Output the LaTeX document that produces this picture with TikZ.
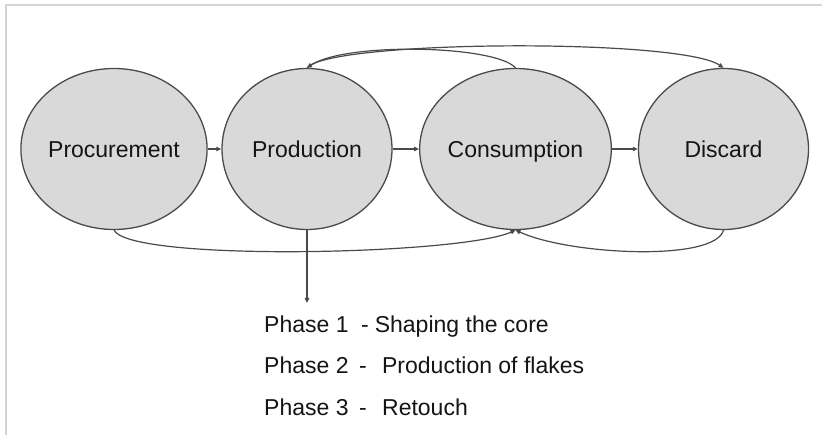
\documentclass[tikz,border=0pt]{standalone}
\usepackage{fontspec}
\setmainfont{Liberation Sans}
\usetikzlibrary{arrows.meta,shapes.geometric}
\definecolor{linegray}{HTML}{4A4A4A}
\definecolor{fillgray}{HTML}{D9D9D9}
\definecolor{framegray}{HTML}{D4D4D4}
\definecolor{textdark}{HTML}{151515}
\begin{document}
\begin{tikzpicture}[x=1pt,y=-1pt,
  stage/.style={ellipse,draw=linegray,fill=fillgray,line width=1.3pt,
    minimum width=170pt,minimum height=161pt,inner sep=0pt,
    text height=16.5pt,text depth=0pt,text=textdark,
    font=\fontsize{23}{27}\selectfont},
  conn/.style={draw=linegray,line width=1.2pt,
    -{Triangle[length=5pt,width=4.5pt]}},
  phasetext/.style={anchor=base west,inner sep=0pt,text=textdark,
    font=\fontsize{23}{27}\selectfont},
  frameline/.style={draw=framegray,line width=2pt}]
\useasboundingbox (0,0) rectangle (822,435);
\fill[white] (0,0) rectangle (822,435);
\draw[frameline] (6,435) -- (6,5) -- (822,5);

\node[stage] (proc) at (114,149) {Procurement};
\node[stage] (prod) at (307,149) {Production};
\node[stage] (cons) at (515.5,149) {Consumption};
\node[stage] (disc) at (723.5,149) {Discard};

\draw[conn] (proc.east) -- (prod.west);
\draw[conn] (prod.east) -- (cons.west);
\draw[conn] (cons.east) -- (disc.west);

\draw[conn] (cons.north) .. controls (495,45) and (345,42) .. (prod.north);
\draw[conn] (prod.north) .. controls (330,40) and (680,38) .. (disc.north);

\draw[conn] (proc.south) .. controls (130,262) and (460,255) .. (cons.south);
\draw[conn] (disc.south) .. controls (715,262) and (570,255) .. (cons.south);

\coordinate (phasetip) at (307,303);
\draw[conn] (prod.south) -- (phasetip);

\node[phasetext] (ph1) at (264,332.5) {\makebox[97pt][l]{Phase 1}-\hspace{6pt}Shaping the core};
\node[phasetext] (ph2) at (264,374) {\makebox[95pt][l]{Phase 2}-\hspace{15.3pt}Production of flakes};
\node[phasetext] (ph3) at (264,415.5) {\makebox[95pt][l]{Phase 3}-\hspace{15.3pt}Retouch};
\end{tikzpicture}
\end{document}
